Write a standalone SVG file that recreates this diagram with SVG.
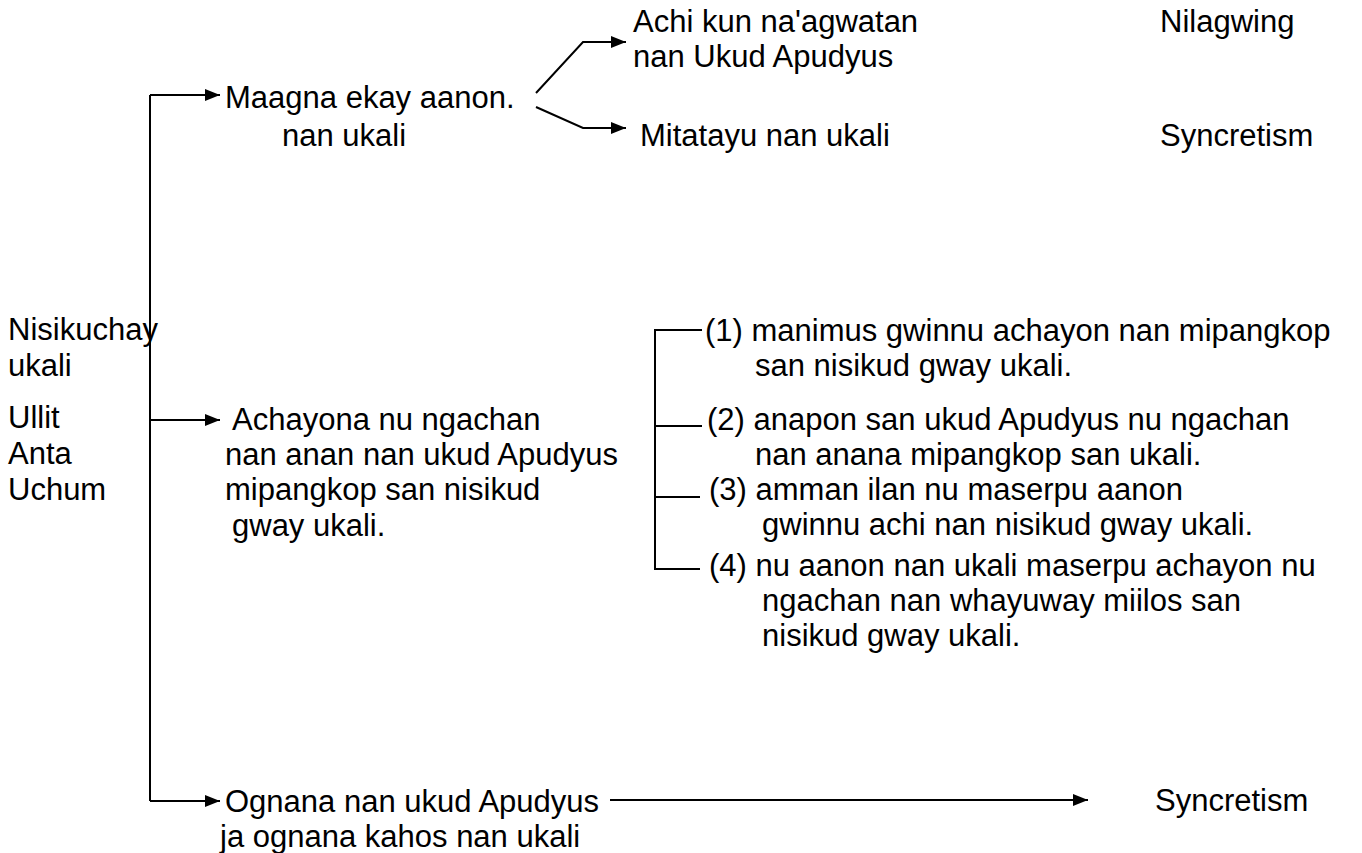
<svg xmlns="http://www.w3.org/2000/svg" width="1362" height="853" viewBox="0 0 1362 853">
<style>
text{font-family:"Liberation Sans",Arial,sans-serif;font-size:31px;fill:#000}
.ln{stroke:#000;stroke-width:2;fill:none}
.ar{marker-end:url(#ah)}
</style>
<defs>
<marker id="ah" markerUnits="userSpaceOnUse" markerWidth="15" markerHeight="12" refX="15" refY="6" orient="auto">
<path d="M0,0 L15,6 L0,12 Z" fill="#000"/>
</marker>
</defs>
<rect width="1362" height="853" fill="#fff"/>
<g id="connectors">
<path class="ln" d="M150,95 V801"/>
<path class="ln ar" d="M150,95 H220"/>
<path class="ln ar" d="M150,420 H220"/>
<path class="ln ar" d="M150,801 H220"/>
<path class="ln ar" d="M536,93 L583,42 H626"/>
<path class="ln ar" d="M536,107 L583,128 H626"/>
<path class="ln ar" d="M610,800 H1088"/>
<path class="ln" d="M702,330 H655 V569 H700"/>
<path class="ln" d="M655,426 H702"/>
<path class="ln" d="M655,497 H700"/>
</g>
<g id="root">
<text x="8" y="340">Nisikuchay</text>
<text x="8" y="376">ukali</text>
<text x="8" y="428">Ullit</text>
<text x="8" y="464">Anta</text>
<text x="8" y="500">Uchum</text>
</g>
<g id="n-maagna">
<text x="225" y="108">Maagna ekay aanon.</text>
<text x="282" y="146">nan ukali</text>
</g>
<g id="n-achi">
<text x="633" y="32">Achi kun na'agwatan</text>
<text x="633" y="67">nan Ukud Apudyus</text>
</g>
<g id="n-mitatayu">
<text x="640" y="146">Mitatayu nan ukali</text>
</g>
<g id="n-nilagwing">
<text x="1160" y="32">Nilagwing</text>
</g>
<g id="n-syncretism1">
<text x="1160" y="146">Syncretism</text>
</g>
<g id="n-achayona">
<text x="232" y="430">Achayona nu ngachan</text>
<text x="225" y="465">nan anan nan ukud Apudyus</text>
<text x="225" y="500">mipangkop san nisikud</text>
<text x="232" y="536">gway ukali.</text>
</g>
<g id="n-list">
<text x="705" y="341">(1) manimus gwinnu achayon nan mipangkop</text>
<text x="755" y="376">san nisikud gway ukali.</text>
<text x="707" y="430">(2) anapon san ukud Apudyus nu ngachan</text>
<text x="755" y="465">nan anana mipangkop san ukali.</text>
<text x="709" y="500">(3) amman ilan nu maserpu aanon</text>
<text x="762" y="535">gwinnu achi nan nisikud gway ukali.</text>
<text x="709" y="576">(4) nu aanon nan ukali maserpu achayon nu</text>
<text x="762" y="611">ngachan nan whayuway miilos san</text>
<text x="762" y="646">nisikud gway ukali.</text>
</g>
<g id="n-ognana">
<text x="225" y="812">Ognana nan ukud Apudyus</text>
<text x="220" y="847">ja ognana kahos nan ukali</text>
</g>
<g id="n-syncretism2">
<text x="1155" y="811">Syncretism</text>
</g>
</svg>
